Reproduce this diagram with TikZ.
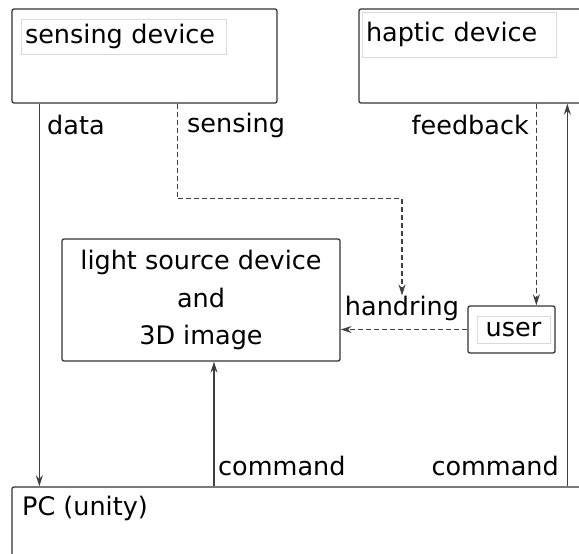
\documentclass[tikz,border=0pt]{standalone}
\usepackage{fontspec}
\setmainfont{DejaVu Sans}
\usetikzlibrary{arrows,arrows.meta}
\usetikzlibrary{shapes}

\begin{document}
\begin{tikzpicture}
      [x=1pt,y=-1pt,
        font=\fontsize{25.5}{37.5}\selectfont,
        box/.style={draw=black!80,line width=1.3pt,rounded corners=2pt},
          tag/.style={draw=black!15,line width=0.8pt,inner ysep=0pt,inner xsep=4pt,align=left},
          lbl/.style={inner sep=0pt},
        flow/.style={draw=black!75,line width=1.4pt,-{Stealth[length=11pt,width=7pt]}},
          feed/.style={flow,dash pattern=on 5pt off 3pt}]
  \clip (0,0) rectangle (579,554);
  \node[box,minimum width=265pt,minimum height=94pt] (sens) at (144.5,56) {};
  \node[tag,text width=197pt,minimum height=35pt] (senstag) at (123.5,36.5) {sensing device};
  \node[box,minimum width=241pt,minimum height=94pt] (hap) at (479.5,56) {};
  \node[tag,text width=186pt,minimum height=45pt] (haptag) at (459,34.5) {haptic device};
  \node[box,minimum width=278pt,minimum height=122pt,align=center] (light) at (201,300)
    {light source device\\and\\3D image};
  \node[box,minimum width=87pt,minimum height=47pt] (user) at (511.5,329.5) {};
  \node[tag,minimum width=73pt,minimum height=27pt] (usertag) at (513.5,329.5) {user};
  \node[lbl] (ring) at (402,308) {handring};
  \node[box,minimum width=588pt,minimum height=113pt] (pc) at (306,543.5) {};
  \node[lbl,anchor=west] (pclbl) at (22,508) {PC (unity)};
  \node[lbl,anchor=west] (data) at (47,125) {data};
  \node[lbl,anchor=west] (sensing) at (187,125) {sensing};
  \node[lbl,anchor=east] (feedback) at (529,125) {feedback};
  \node[lbl,anchor=west] (cmdl) at (218,466) {command};
  \node[lbl,anchor=east] (cmdr) at (559,466) {command};

  \draw[flow] ([xshift=28pt]sens.south west) -- ([xshift=28pt]sens.south west |- pc.north);
  \draw[feed] ([xshift=166pt]sens.south west) -- ++(0,95) -| (ring.north);
  \draw[feed] ([xshift=178pt]hap.south west) -- ([xshift=178pt]hap.south west |- user.north);
  \draw[feed] (user.west) -- (light.east |- user.west);
  \draw[flow] ([xshift=13pt]light.south |- pc.north) -- ([xshift=13pt]light.south);
  \draw[flow] ([xshift=209pt]hap.south west |- pc.north) -- ([xshift=209pt]hap.south west);
\end{tikzpicture}
\end{document}
